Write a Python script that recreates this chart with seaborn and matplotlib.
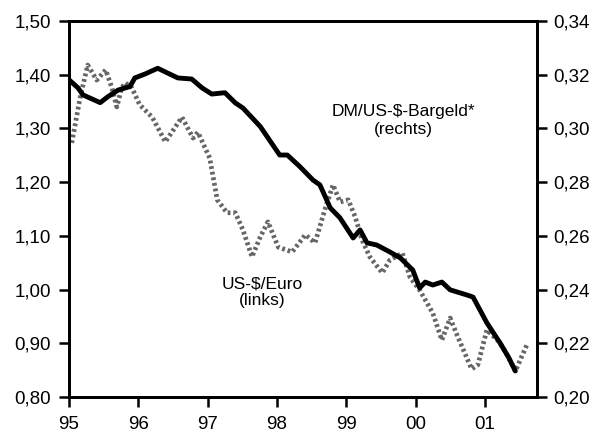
#!/usr/bin/env python3
import matplotlib
matplotlib.use('Agg')
from matplotlib import pyplot as plt
import seaborn as sns

# US-$/Euro (linke Skala)
euro_t = [1995.04, 1995.16, 1995.27, 1995.40, 1995.53, 1995.62, 1995.69, 1995.76,
          1995.81, 1995.91, 1996.02, 1996.20, 1996.39, 1996.63, 1996.79, 1996.86,
          1997.03, 1997.14, 1997.28, 1997.40, 1997.51, 1997.64, 1997.76, 1997.87,
          1998.02, 1998.22, 1998.41, 1998.55, 1998.69, 1998.81, 1998.91, 1999.03,
          1999.13, 1999.23, 1999.34, 1999.52, 1999.63, 1999.81, 1999.92, 2000.06,
          2000.25, 2000.38, 2000.50, 2000.61, 2000.81, 2000.90, 2001.03, 2001.22,
          2001.34, 2001.44, 2001.62]
euro_v = [1.273, 1.357, 1.418, 1.390, 1.409, 1.375, 1.340, 1.375,
          1.385, 1.375, 1.344, 1.321, 1.275, 1.321, 1.282, 1.293,
          1.245, 1.167, 1.143, 1.143, 1.111, 1.061, 1.098, 1.126,
          1.079, 1.070, 1.102, 1.087, 1.148, 1.195, 1.163, 1.167,
          1.135, 1.092, 1.061, 1.031, 1.055, 1.068, 1.023, 0.999,
          0.956, 0.906, 0.947, 0.912, 0.852, 0.860, 0.925, 0.901,
          0.874, 0.848, 0.901]

# DM/US-$-Bargeld (rechte Skala)
dm_t = [1995.00, 1995.13, 1995.20, 1995.45, 1995.56, 1995.71, 1995.88, 1995.95,
        1996.10, 1996.28, 1996.57, 1996.77, 1996.92, 1997.06, 1997.25, 1997.40,
        1997.51, 1997.76, 1998.04, 1998.15, 1998.33, 1998.52, 1998.62, 1998.77,
        1998.91, 1999.10, 1999.20, 1999.30, 1999.44, 1999.63, 1999.78, 1999.96,
        2000.06, 2000.14, 2000.25, 2000.38, 2000.50, 2000.74, 2000.83, 2001.03,
        2001.22, 2001.34, 2001.44]
dm_v = [0.3181, 0.3151, 0.3125, 0.3096, 0.3118, 0.3143, 0.3156, 0.3188,
        0.3203, 0.3224, 0.3188, 0.3184, 0.3151, 0.3128, 0.3133, 0.3095,
        0.3076, 0.3007, 0.2901, 0.2901, 0.2858, 0.2808, 0.2790, 0.2704,
        0.2667, 0.2592, 0.2622, 0.2574, 0.2566, 0.2540, 0.2518, 0.2473,
        0.2406, 0.2428, 0.2417, 0.2428, 0.2399, 0.2380, 0.2372, 0.2276,
        0.2201, 0.2149, 0.2097]

left_ticks = [0.80, 0.90, 1.00, 1.10, 1.20, 1.30, 1.40, 1.50]
right_ticks = [0.20, 0.22, 0.24, 0.26, 0.28, 0.30, 0.32, 0.34]
year_ticks = [1995, 1996, 1997, 1998, 1999, 2000, 2001]
year_labels = ['95', '96', '97', '98', '99', '00', '01']

sns.set_style('white')
plt.rcParams['font.family'] = ['Liberation Sans', 'DejaVu Sans']

fig = plt.figure(figsize=(5.97, 4.34), dpi=100)
ax = fig.add_axes([69 / 597, 37 / 434, 468 / 597, 376 / 434])
ax2 = ax.twinx()

sns.lineplot(x=euro_t, y=euro_v, ax=ax, color='#666666', linewidth=3.4,
             linestyle=(0, (0.6, 0.6)))
sns.lineplot(x=dm_t, y=dm_v, ax=ax2, color='black', linewidth=3.5)

ax.set_xlim(1995.0, 2001.753)
ax.set_ylim(0.80, 1.50)
ax2.set_ylim(0.20, 0.34)

ax.set_xticks(year_ticks)
ax.set_xticklabels(year_labels)
ax.set_yticks(left_ticks)
ax.set_yticklabels([f"{v:.2f}".replace('.', ',') for v in left_ticks])
ax2.set_yticks(right_ticks)
ax2.set_yticklabels([f"{v:.2f}".replace('.', ',') for v in right_ticks])

for a in (ax, ax2):
    for s in a.spines.values():
        s.set_visible(True)
        s.set_color('black')
        s.set_linewidth(2)
    a.grid(False)
ax.tick_params(axis='both', direction='out', length=7, width=1.8, color='black',
               labelsize=13.5, labelcolor='black')
ax.tick_params(axis='x', pad=6.5, bottom=True)
ax.tick_params(axis='y', pad=6, left=True)
ax2.tick_params(axis='y', direction='out', length=7, width=1.8, color='black',
                labelsize=13.5, pad=5, right=True, labelcolor='black')

ax.text(1999.82, 1.315, "DM/US-$-Bargeld*\n(rechts)", ha='center', va='center',
        fontsize=12.5, linespacing=1.2, color='black')
ax.text(1997.785, 0.995, "US-$/Euro\n(links)", ha='center', va='center',
        fontsize=12.5, linespacing=1.2, color='black')

ax.set_xlabel('')
ax.set_ylabel('')
ax2.set_ylabel('')

plt.savefig('out.png', dpi=100)
